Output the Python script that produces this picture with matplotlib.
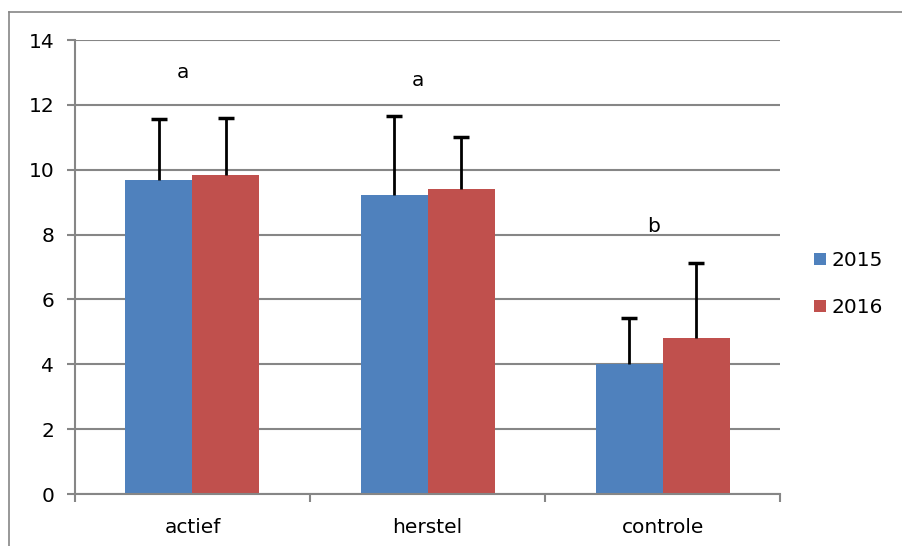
import numpy as np
import matplotlib.pyplot as plt
from matplotlib.lines import Line2D

#---data-----
categories = ["actief", "herstel", "controle"]
years = ["2015", "2016"]
mean_2015 = [9.68, 9.22, 4.02]
mean_2016 = [9.83, 9.40, 4.80]
err_2015 = [1.88, 2.44, 1.42]
err_2016 = [1.77, 1.62, 2.32]
letters = ["a", "a", "b"]
letter_y = [13.0, 12.75, 8.25]

plt.rcParams['font.family'] = ['DejaVu Sans']
grey = "#868686"
fs = 14.5

fig = plt.figure(figsize=(9.03, 5.46), dpi=100)
ax = fig.add_axes([0.083, 0.0952, 0.781, 0.8315])

x = np.arange(len(categories))
w = 0.285
ax.bar(x - w/2, mean_2015, w, color="#4F81BD", label=years[0], zorder=2)
ax.bar(x + w/2, mean_2016, w, color="#C0504D", label=years[1], zorder=2)

#---only upper error bars-----
for xs, m, e in [(x - w/2, mean_2015, err_2015), (x + w/2, mean_2016, err_2016)]:
    top = np.array(m) + np.array(e)
    ax.vlines(xs, m, top, color="black", linewidth=2, zorder=3)
    ax.plot(xs, top, linestyle="none", marker="_", markersize=11,
            markeredgewidth=2.5, color="black", zorder=3)

for i in range(len(categories)):
    ax.text(x[i] - 0.04, letter_y[i], letters[i], ha="center", va="center", fontsize=fs)

#---axes-----
ax.set_xlim(-0.5, 2.5)
ax.set_ylim(0, 14)
ax.set_yticks(range(0, 15, 2))
ax.set_xticks(x)
ax.set_xticklabels(categories)
ax.set_xticks([-0.5, 0.5, 1.5, 2.5], minor=True)
ax.tick_params(axis="x", which="major", length=0, pad=17, labelsize=fs)
ax.tick_params(axis="x", which="minor", length=6, color=grey, width=1.5)
ax.tick_params(axis="y", length=6, color=grey, width=1.5, labelsize=fs, pad=9)
ax.grid(axis="y", color=grey, linewidth=1.5, zorder=0)
ax.set_axisbelow(True)
for s in ["top", "right"]:
    ax.spines[s].set_visible(False)
for s in ["left", "bottom"]:
    ax.spines[s].set_color(grey)
    ax.spines[s].set_linewidth(1.5)

ax.legend(loc="center left", bbox_to_anchor=(0.893, 0.48), bbox_transform=fig.transFigure,
          frameon=False, fontsize=fs, handlelength=0.55, handleheight=0.55,
          handletextpad=0.3, labelspacing=1.4, borderaxespad=0)

#---outer frame (left and top only visible)-----
fx = 9.5 / 903
fy = 1 - 11.5 / 546
fig.add_artist(Line2D([fx, fx], [-0.1, fy], transform=fig.transFigure, color=grey, linewidth=1.2))
fig.add_artist(Line2D([fx, 1.1], [fy, fy], transform=fig.transFigure, color=grey, linewidth=1.2))

fig.savefig("out.png", dpi=100)
